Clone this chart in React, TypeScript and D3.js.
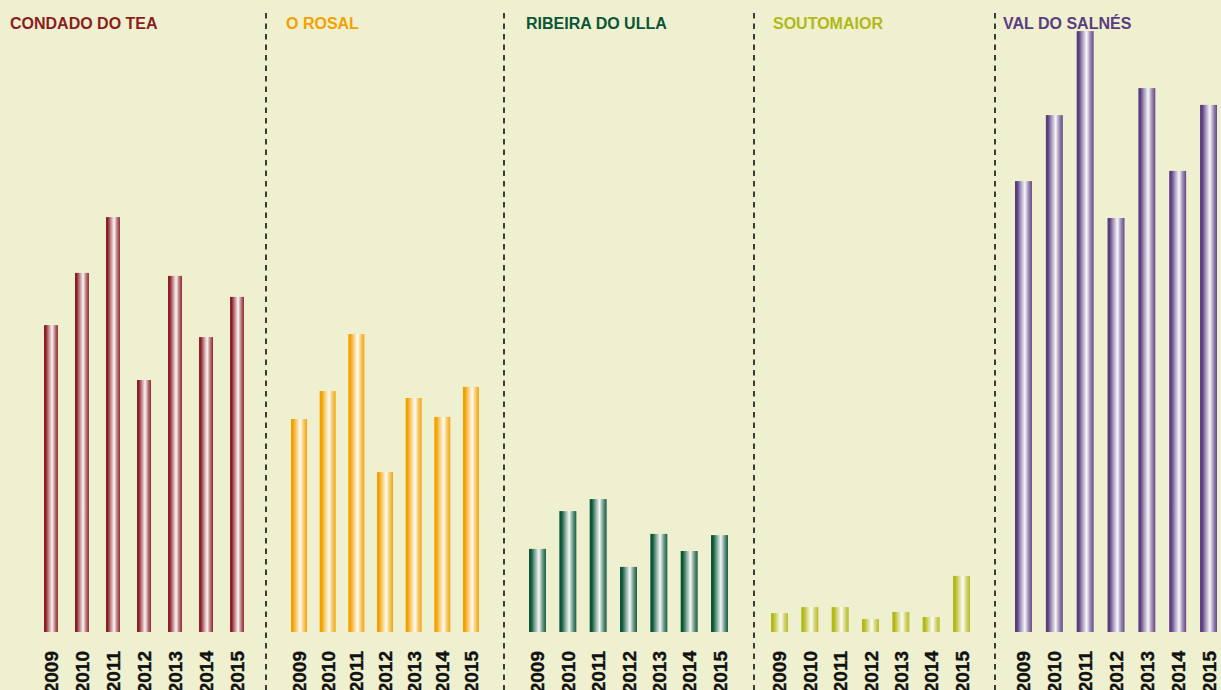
import React, { useEffect } from "react";
import * as d3 from "d3";

// Data (values in arbitrary production units)
const years = ["2009", "2010", "2011", "2012", "2013", "2014", "2015"];
const regions = ["CONDADO DO TEA", "O ROSAL", "RIBEIRA DO ULLA", "SOUTOMAIOR", "VAL DO SALNÉS"];
const condadoDoTea = [10.23, 11.97, 13.83, 8.4, 11.87, 9.83, 11.17];
const oRosal = [7.1, 8.03, 9.93, 5.33, 7.8, 7.17, 8.17];
const ribeiraDoUlla = [2.77, 4.03, 4.43, 2.17, 3.27, 2.7, 3.23];
const soutomaior = [0.63, 0.83, 0.83, 0.43, 0.67, 0.5, 1.87];
const valDoSalnes = [15.03, 17.23, 20.03, 13.8, 18.13, 15.37, 17.57];
const seriesValues = [condadoDoTea, oRosal, ribeiraDoUlla, soutomaior, valDoSalnes];

// Styling / layout
const W = 1221;
const H = 690;
const BG = "#EFF0CF";
const colors = ["#8B1D22", "#F2A100", "#0A5537", "#B2B817", "#5A3D80"];
const panels = [
  { titleX: 10, x0: 44, x1: 244, pad: 0.55 },
  { titleX: 286, x0: 291, x1: 479, pad: 0.44 },
  { titleX: 526, x0: 529, x1: 728, pad: 0.44 },
  { titleX: 773, x0: 771, x1: 970, pad: 0.44 },
  { titleX: 1003, x0: 1015, x1: 1217, pad: 0.45 },
];
const dividers = [266, 504, 754, 995];

const y = d3.scaleLinear().domain([0, 20]).range([632, 32]);

export default function App() {
  useEffect(() => {
    document.body.style.margin = "0";
  }, []);
  return (
    <svg
      width={W}
      height={H}
      style={{ display: "block", position: "absolute", left: 0, top: 0 }}
      fontFamily="'Liberation Sans', Arial, Helvetica, sans-serif"
    >
      <defs>
        {colors.map((c, i) => {
          const light = d3.interpolateRgb(c, "#ffffff");
          return (
            <linearGradient key={i} id={`g${i}`} x1="0" x2="1" y1="0" y2="0">
              <stop offset="0%" stopColor={c} />
              <stop offset="12%" stopColor={c} />
              <stop offset="35%" stopColor={light(0.5)} />
              <stop offset="58%" stopColor={light(0.96)} />
              <stop offset="80%" stopColor={light(0.4)} />
              <stop offset="100%" stopColor={light(0.05)} />
            </linearGradient>
          );
        })}
      </defs>
      <rect x={0} y={0} width={W} height={H} fill={BG} />
      {dividers.map((dx) => (
        <line
          key={dx}
          x1={dx}
          x2={dx}
          y1={13}
          y2={H}
          stroke="#111"
          strokeWidth={1.6}
          strokeDasharray="5.5,5"
        />
      ))}
      {panels.map((p, i) => {
        const x = d3.scaleBand<string>().domain(years).range([p.x0, p.x1]).paddingInner(p.pad).paddingOuter(0);
        const vals = seriesValues[i];
        return (
          <g key={i}>
            <text x={p.titleX} y={29} fontSize={16} fontWeight="bold" fill={colors[i]}>
              {regions[i]}
            </text>
            {years.map((yr, j) => (
              <rect
                key={yr}
                x={x(yr)}
                y={y(vals[j])}
                width={x.bandwidth()}
                height={y(0) - y(vals[j])}
                fill={`url(#g${i})`}
              />
            ))}
            {years.map((yr) => {
              const cx = (x(yr) as number) + x.bandwidth() / 2 + 7;
              return (
                <text
                  key={yr}
                  transform={`translate(${cx},651) rotate(-90)`}
                  textAnchor="end"
                  fontSize={19}
                  fontWeight="bold"
                  fill="#111"
                  stroke="#111"
                  strokeWidth={0.4}
                >
                  {yr}
                </text>
              );
            })}
          </g>
        );
      })}
    </svg>
  );
}
